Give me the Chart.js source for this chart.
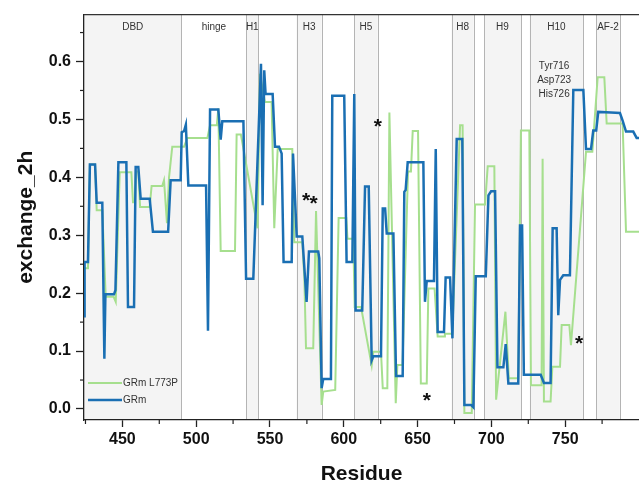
<!DOCTYPE html>
<html>
<head>
<meta charset="utf-8">
<script src="https://cdn.jsdelivr.net/npm/chart.js@4/dist/chart.umd.min.js"></script>
<style>
  html, body { margin: 0; padding: 0; background: #ffffff; }
  #wrap { width: 639px; height: 487px; }
</style>
</head>
<body>
<div id="wrap"><canvas id="c" width="639" height="487"></canvas></div>
<script>
// ---------------- data ----------------
const seriesNames = ['GRm', 'GRm L773P'];

const residuesGRm = [424, 424.4, 426.7, 428, 431.5, 432.6, 436.4, 437.8, 438.5, 444.3, 445.3, 447.3, 452.7, 453.8, 457.9, 459, 460.8, 462.4, 468.5, 470.7, 481, 482.7, 489.5, 490.2, 491.8, 493, 494.7, 506.7, 508, 509.4, 515, 516.6, 517.7, 532, 533.8, 538.7, 543.9, 545, 546.1, 547, 551.8, 553.4, 556.1, 557.9, 559.2, 564.7, 565.6, 568.1, 571.9, 573.7, 574.8, 576.4, 582.7, 583.4, 585, 586.1, 591.3, 592.2, 600.3, 601.9, 605.8, 607.1, 608, 612.5, 614.4, 616.9, 618.9, 620, 625.2, 626.4, 628, 629.1, 633.6, 635.4, 639.9, 641, 641.9, 643.3, 653.9, 655, 656.2, 661.1, 662.3, 663.6, 667.9, 669, 672, 673.6, 676.5, 680.3, 681.7, 686.2, 687.8, 689.4, 696.2, 698, 699.8, 702.5, 704.1, 708.1, 709.7, 711.5, 718.2, 719.4, 720.8, 722, 733.4, 735.6, 740.1, 741.5, 744.2, 745.3, 746.5, 748.7, 753.2, 755.5, 762.3, 764.1, 767.5, 769, 771, 772.4, 781, 787.1, 788.9, 791.2, 796.1, 798.4, 805];
const valuesGRm = [0.16, 0.254, 0.254, 0.422, 0.422, 0.356, 0.356, 0.087, 0.198, 0.198, 0.205, 0.426, 0.426, 0.176, 0.176, 0.418, 0.418, 0.363, 0.363, 0.306, 0.306, 0.395, 0.395, 0.478, 0.48, 0.491, 0.386, 0.386, 0.135, 0.517, 0.517, 0.465, 0.497, 0.497, 0.225, 0.225, 0.596, 0.352, 0.585, 0.544, 0.544, 0.453, 0.453, 0.441, 0.254, 0.254, 0.441, 0.298, 0.298, 0.228, 0.185, 0.272, 0.272, 0.26, 0.036, 0.052, 0.052, 0.541, 0.541, 0.254, 0.254, 0.544, 0.17, 0.17, 0.384, 0.384, 0.084, 0.091, 0.091, 0.346, 0.346, 0.303, 0.303, 0.057, 0.057, 0.375, 0.378, 0.426, 0.426, 0.185, 0.221, 0.221, 0.449, 0.133, 0.133, 0.227, 0.227, 0.122, 0.466, 0.466, 0.007, 0.007, 0.003, 0.229, 0.229, 0.369, 0.376, 0.376, 0.072, 0.072, 0.112, 0.044, 0.044, 0.317, 0.317, 0.059, 0.059, 0.045, 0.045, 0.312, 0.312, 0.162, 0.223, 0.231, 0.231, 0.551, 0.551, 0.449, 0.449, 0.481, 0.481, 0.513, 0.512, 0.511, 0.498, 0.479, 0.479, 0.468, 0.468];

const residuesL773P = [424, 426.7, 428, 431.5, 432.6, 436.4, 438.7, 444, 445.5, 448.2, 456.1, 457.2, 458.5, 459.2, 460.8, 462, 468.5, 469.8, 477, 478.2, 480.2, 481.6, 483.8, 491.8, 494, 507.6, 509.4, 514, 515, 516.6, 526.3, 527.4, 530.3, 541.6, 543.2, 546.6, 551.1, 552.9, 555.2, 565.1, 566.5, 571.9, 573.3, 574.4, 579.3, 581.2, 585, 586.1, 594.2, 596.5, 601.7, 602.5, 606.4, 607.4, 611.7, 618.9, 620, 625.2, 626.4, 629.5, 630.9, 635.2, 636.3, 639.8, 643.5, 645.5, 646.7, 650.3, 652.2, 656.2, 657.3, 661.5, 663.6, 667.9, 668.5, 673.5, 678.8, 680.5, 681.7, 686.7, 688.9, 695.7, 697.5, 702, 703.2, 709.5, 711.8, 718.2, 720, 725.7, 726.8, 734, 734.7, 735.6, 740.1, 741.3, 746.5, 747.6, 752.8, 753.9, 764.1, 768.4, 772, 776.5, 778.1, 788.9, 791.2, 805];
const valuesL773P = [0.243, 0.243, 0.422, 0.422, 0.343, 0.343, 0.194, 0.194, 0.185, 0.409, 0.409, 0.357, 0.357, 0.41, 0.41, 0.349, 0.349, 0.385, 0.385, 0.395, 0.321, 0.4, 0.453, 0.453, 0.468, 0.468, 0.49, 0.49, 0.519, 0.273, 0.273, 0.474, 0.474, 0.312, 0.579, 0.53, 0.53, 0.312, 0.449, 0.449, 0.288, 0.288, 0.225, 0.105, 0.105, 0.342, 0.007, 0.03, 0.033, 0.33, 0.33, 0.294, 0.294, 0.176, 0.176, 0.075, 0.099, 0.099, 0.036, 0.036, 0.512, 0.01, 0.076, 0.076, 0.41, 0.41, 0.48, 0.48, 0.044, 0.044, 0.208, 0.208, 0.125, 0.125, 0.13, 0.13, 0.49, 0.49, -0.007, -0.007, 0.353, 0.353, 0.419, 0.419, 0.016, 0.168, 0.053, 0.053, 0.481, 0.481, 0.041, 0.041, 0.432, 0.013, 0.013, 0.073, 0.073, 0.145, 0.145, 0.11, 0.444, 0.444, 0.573, 0.573, 0.493, 0.493, 0.306, 0.306];

const xTickValues = [450, 500, 550, 600, 650, 700, 750];
const xMinorTicks = [425, 475, 525, 575, 625, 675, 725, 775];
const yTickValues = [0.0, 0.1, 0.2, 0.3, 0.4, 0.5, 0.6];
const yMinorTicks = [0.05, 0.15, 0.25, 0.35, 0.45, 0.55, 0.65];

const regionNames  = ['DBD', 'hinge', 'H1', 'H3', 'H5', 'H8', 'H9', 'H10', 'AF-2'];
const regionStart  = [424, 490, 534, 568, 607, 673, 695, 726, 771];
const regionEnd    = [490, 534, 542, 585, 623, 688, 720, 762, 787];
const regionShaded = [true, false, true, true, true, true, true, true, true];

const markResidues = [574.4, 579.6, 623, 656.2, 759.4];
const markValues   = [0.369, 0.364, 0.497, 0.024, 0.122];

const noteLines = ['Tyr716', 'Asp723', 'His726'];
const noteResidue = 742.5;
const noteValues = [0.591, 0.568, 0.544];

// ---------------- styles ----------------
const BLUE = '#1a6fb3';
const GREEN = '#a6df8e';
const FONT = '"Liberation Sans", Arial, Helvetica, sans-serif';

function pts(xs, ys) { return xs.map((x, i) => ({ x: x, y: ys[i] })); }

const bandsPlugin = {
  id: 'bands',
  beforeDraw(chart) {
    const { ctx, chartArea: a, scales: { x } } = chart;
    ctx.save();
    for (let i = 0; i < regionNames.length; i++) {
      const x0 = Math.max(a.left, x.getPixelForValue(regionStart[i]));
      const x1 = x.getPixelForValue(regionEnd[i]);
      if (regionShaded[i]) {
        ctx.fillStyle = '#f4f4f4';
        ctx.fillRect(x0, a.top, x1 - x0, a.bottom - a.top);
      }
    }
    ctx.strokeStyle = '#b4b4b4';
    ctx.lineWidth = 1;
    const edges = new Set();
    regionStart.forEach(v => edges.add(v));
    regionEnd.forEach(v => edges.add(v));
    edges.forEach(v => {
      const px = Math.round(x.getPixelForValue(v)) + 0.5;
      if (px <= a.left + 1) return;
      ctx.beginPath();
      ctx.moveTo(px, a.top);
      ctx.lineTo(px, a.bottom);
      ctx.stroke();
    });
    ctx.fillStyle = '#333333';
    ctx.font = '10px ' + FONT;
    ctx.textAlign = 'center';
    ctx.textBaseline = 'middle';
    for (let i = 0; i < regionNames.length; i++) {
      const cx = x.getPixelForValue((regionStart[i] + regionEnd[i]) / 2);
      ctx.fillText(regionNames[i], cx, a.top + 13);
    }
    ctx.restore();
  },
  afterDraw(chart) {
    const { ctx, chartArea: a, scales: { x, y } } = chart;
    ctx.save();
    // marks
    ctx.fillStyle = '#111111';
    ctx.font = 'bold 21px ' + FONT;
    ctx.textAlign = 'center';
    ctx.textBaseline = 'alphabetic';
    markResidues.forEach((r, i) => {
      ctx.fillText('*', x.getPixelForValue(r), y.getPixelForValue(markValues[i]) + 12);
    });
    // notes
    ctx.fillStyle = '#333333';
    ctx.font = '10px ' + FONT;
    ctx.textBaseline = 'middle';
    noteLines.forEach((t, i) => {
      ctx.fillText(t, x.getPixelForValue(noteResidue), y.getPixelForValue(noteValues[i]));
    });
    // legend
    const legend = [
      { label: chart.data.datasets[1].label, color: GREEN, w: 2 },
      { label: chart.data.datasets[0].label, color: BLUE, w: 2.5 }
    ];
    legend.forEach((l, i) => {
      const ly = 383 + i * 17;
      ctx.strokeStyle = l.color;
      ctx.lineWidth = l.w;
      ctx.beginPath();
      ctx.moveTo(a.left + 4, ly);
      ctx.lineTo(a.left + 38, ly);
      ctx.stroke();
      ctx.fillStyle = '#333333';
      ctx.textAlign = 'left';
      ctx.fillText(l.label, a.left + 39, ly);
    });
    // minor ticks
    ctx.strokeStyle = '#222222';
    ctx.lineWidth = 1.2;
    xMinorTicks.forEach(v => {
      const px = x.getPixelForValue(v);
      ctx.beginPath();
      ctx.moveTo(px, a.bottom);
      ctx.lineTo(px, a.bottom + 4);
      ctx.stroke();
    });
    yMinorTicks.forEach(v => {
      const py = y.getPixelForValue(v);
      ctx.beginPath();
      ctx.moveTo(a.left, py);
      ctx.lineTo(a.left - 4, py);
      ctx.stroke();
    });
    // top frame
    ctx.strokeStyle = '#333333';
    ctx.lineWidth = 1.3;
    ctx.beginPath();
    ctx.moveTo(a.left, a.top);
    ctx.lineTo(a.right, a.top);
    ctx.stroke();
    ctx.restore();
  }
};

new Chart(document.getElementById('c'), {
  type: 'line',
  data: {
    datasets: [
      {
        label: seriesNames[0],
        data: pts(residuesGRm, valuesGRm),
        borderColor: BLUE,
        borderWidth: 2.5,
        pointRadius: 0,
        tension: 0,
        fill: false
      },
      {
        label: seriesNames[1],
        data: pts(residuesL773P, valuesL773P),
        borderColor: GREEN,
        borderWidth: 2,
        pointRadius: 0,
        tension: 0,
        fill: false
      }
    ]
  },
  options: {
    responsive: false,
    animation: false,
    devicePixelRatio: 1,
    layout: { padding: { top: 14, right: 0, left: 0, bottom: 0 } },
    plugins: { legend: { display: false }, tooltip: { enabled: false } },
    scales: {
      x: {
        type: 'linear',
        min: 424,
        max: 800,
        afterFit(s) { s.height = 67; },
        afterBuildTicks(s) { s.ticks = xTickValues.map(v => ({ value: v })); },
        grid: { drawOnChartArea: false, drawTicks: true, tickLength: 7, tickColor: '#222222', tickWidth: 1.3 },
        border: { display: true, color: '#222222', width: 1.3 },
        ticks: {
          color: '#111111',
          font: { family: FONT, size: 16, weight: 'bold' },
          padding: 3,
          maxRotation: 0,
          callback: v => String(v)
        },
        title: {
          display: true,
          text: 'Residue',
          color: '#111111',
          font: { family: FONT, size: 21, weight: 'bold' },
          padding: { top: 0, bottom: 0 }
        }
      },
      y: {
        type: 'linear',
        min: -0.019,
        max: 0.681,
        afterFit(s) { s.width = 84; },
        afterBuildTicks(s) { s.ticks = yTickValues.map(v => ({ value: v })); },
        grid: { drawOnChartArea: false, drawTicks: true, tickLength: 8, tickColor: '#222222', tickWidth: 1.3 },
        border: { display: true, color: '#222222', width: 1.3 },
        ticks: {
          color: '#111111',
          font: { family: FONT, size: 16, weight: 'bold' },
          padding: 5,
          callback: v => Number(v).toFixed(1)
        },
        title: {
          display: true,
          text: 'exchange_2h',
          color: '#111111',
          font: { family: FONT, size: 21, weight: 'bold' },
          padding: { top: 14, bottom: 0 }
        }
      }
    }
  },
  plugins: [bandsPlugin]
});
</script>
</body>
</html>
